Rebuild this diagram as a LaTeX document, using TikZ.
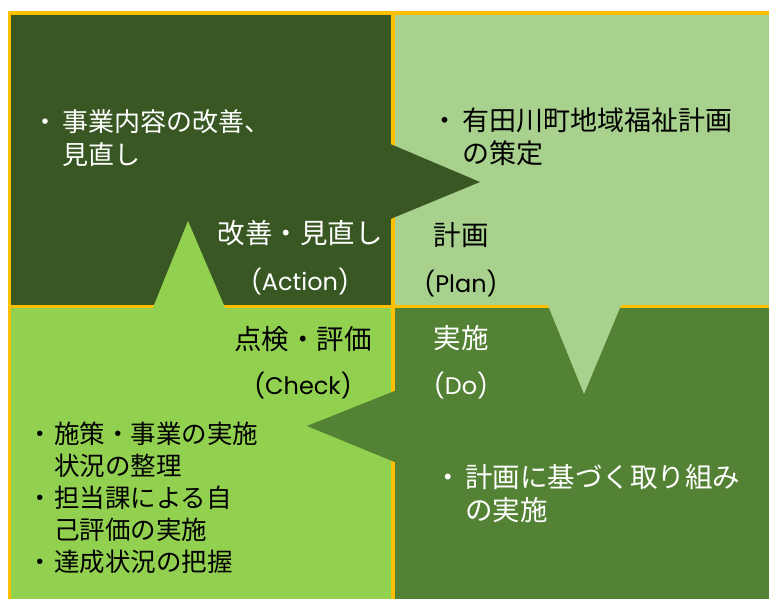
\documentclass[tikz,border=0pt]{standalone}
\usepackage{fontspec}
\newfontfamily\jp{Noto Sans CJK JP}
\newfontfamily\lat{Poppins}
\definecolor{tlc}{RGB}{56,87,35}
\definecolor{trc}{RGB}{169,209,142}
\definecolor{blc}{RGB}{146,208,80}
\definecolor{brc}{RGB}{84,130,53}
\definecolor{bordc}{RGB}{255,192,0}
\newcommand\clabel[3]{\vtop{\baselineskip=#1\halign{\hfil##\hfil\cr #2\cr {\lat\fontsize{24}{30}\selectfont #3}\cr}}}
\newcommand\bfirst[2]{\hbox{\makebox[#1][c]{・}#2}}
\newcommand\bnext[2]{\hbox{\hspace*{#1}#2}}
\begin{document}
\begin{tikzpicture}[x=1pt,y=-1pt,
  quad/.style={draw=bordc,line width=3.5pt},
  txt/.style={inner sep=0pt,anchor=base west,font=\jp\fontsize{26}{33}\selectfont},
  lbl/.style={inner sep=0pt,anchor=base,font=\jp\fontsize{27.5}{33}\selectfont}]
\useasboundingbox (0,0) rectangle (769,599);
\fill[white] (0,0) rectangle (769,599);
\begin{scope}
\clip (0,0) rectangle (769,599);
\path[quad,fill=tlc] (9.5,13) rectangle (393,306.5);
\path[quad,fill=trc] (393,13) rectangle (790,306.5);
\path[quad,fill=blc] (9.5,306.5) rectangle (393,620);
\path[quad,fill=brc] (393,306.5) rectangle (790,620);
\fill[tlc] (388,143) -- (480,182) -- (388,220) -- cycle;
\fill[blc] (152,310) -- (188,221) -- (226,310) -- cycle;
\fill[trc] (547,303) -- (584,394) -- (622,303) -- cycle;
\fill[brc] (397,390) -- (307,426) -- (397,463) -- cycle;
\end{scope}
% bullet texts
\node[txt,text=white] (acttxt) at (28,132) {\vtop{\baselineskip=33pt\bfirst{34pt}{事業内容の改善、}\bnext{34pt}{見直し}}};
\node[txt,text=black,font=\jp\fontsize{27}{33}\selectfont] (plantxt) at (428,130.5) {\vtop{\baselineskip=33pt\bfirst{34pt}{有田川町地域福祉計画}\bnext{34pt}{の策定}}};
\node[txt,text=black,font=\jp\fontsize{25.5}{32}\selectfont] (chktxt) at (26,443) {\vtop{\baselineskip=32pt\bfirst{28pt}{施策・事業の実施}\bnext{28pt}{状況の整理}\bfirst{28pt}{担当課による自}\bnext{28pt}{己評価の実施}\bfirst{28pt}{達成状況の把握}}};
\node[txt,text=white,font=\jp\fontsize{27.5}{33}\selectfont] (dotxt) at (431,487.5) {\vtop{\baselineskip=33pt\bfirst{34pt}{計画に基づく取り組み}\bnext{34pt}{の実施}}};
% labels
\node[lbl,text=white] (actlbl) at (300,243.5) {\clabel{47pt}{改善・見直し}{(Action)}};
\node[lbl,text=black] (planlbl) at (461,245.5) {\clabel{47pt}{計画}{(Plan)}};
\node[lbl,text=black] (chklbl) at (303,349.5) {\clabel{45pt}{点検・評価}{(Check)}};
\node[lbl,text=white] (dolbl) at (461,348) {\clabel{46.5pt}{実施}{(Do)}};
\end{tikzpicture}
\end{document}
